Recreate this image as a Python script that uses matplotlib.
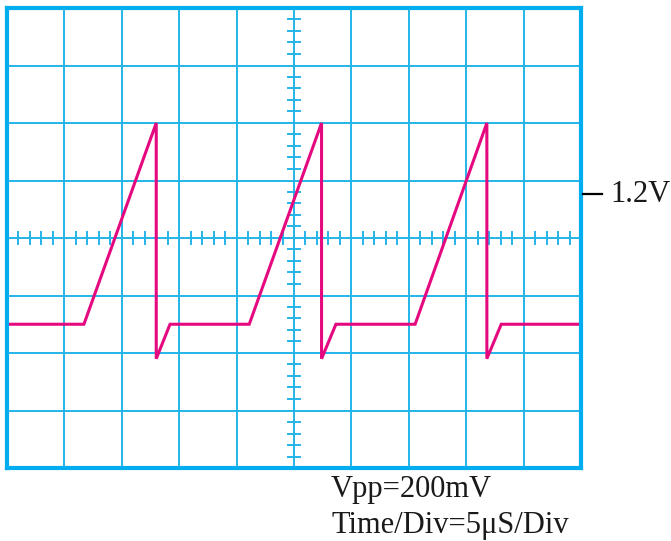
import matplotlib
matplotlib.use("Agg")
import matplotlib.pyplot as plt
import numpy as np

# Waveform (in screen divisions, centre = 0,0)
time_div = [-5.0, -3.66, -2.40, -2.40, -2.16, -0.78, 0.48, 0.48, 0.73, 2.11, 3.36, 3.36, 3.61, 5.0]
volt_div = [-1.5, -1.5, 2.0, -2.1, -1.5, -1.5, 2.0, -2.1, -1.5, -1.5, 2.0, -2.1, -1.5, -1.5]

level_label = "1.2V"
level_div = 0.76
caption_lines = ["Vpp=200mV", "Time/Div=5\u03bcS/Div"]

GRID = "#22b5e8"
FRAME = "#00aeef"
TRACE = "#e5097f"
TXT = "#1a1a1a"

W, H = 671, 541
fig = plt.figure(figsize=(W / 100, H / 100), dpi=100)
ax = fig.add_axes([7 / W, (H - 468) / H, 574 / W, 460 / H])
ax.set_xlim(-5, 5)
ax.set_ylim(-4, 4)

ax.set_xticks(np.arange(-5, 6))
ax.set_yticks(np.arange(-4, 5))
ax.tick_params(length=0, labelbottom=False, labelleft=False)
ax.grid(True, color=GRID, lw=1.4)
ax.set_axisbelow(True)

for s in ax.spines.values():
    s.set_color(FRAME)
    s.set_linewidth(3.0)
    s.set_zorder(5)

# centre-line graticule ticks
tk = 0.1
for v in np.arange(-5, 5.01, 0.2):
    if abs(v - round(v)) > 1e-6:
        ax.plot([v, v], [-tk, tk], color=GRID, lw=1.4, zorder=1)
for v in np.arange(-4, 4.01, 0.2):
    if abs(v - round(v)) > 1e-6:
        ax.plot([-tk, tk], [v, v], color=GRID, lw=1.4, zorder=1)

ax.plot(time_div, volt_div, color=TRACE, lw=2.2, zorder=3, solid_joinstyle="miter")

# level marker outside the screen
y_fig = (ax.transData.transform((0, level_div))[1]) / H
fig.add_artist(plt.Line2D([583 / W, 602 / W], [y_fig, y_fig], color="black", lw=1.6))
fig.text(610 / W, y_fig, level_label, fontsize=22, family="Liberation Serif",
         va="center", ha="left", color=TXT)

fig.text(331 / W, (H - 497) / H, caption_lines[0], fontsize=22, family="Liberation Serif",
         va="baseline", ha="left", color=TXT)
fig.text(331 / W, (H - 533) / H, caption_lines[1], fontsize=22, family="Liberation Serif",
         va="baseline", ha="left", color=TXT)

fig.savefig("out.png", dpi=100)
